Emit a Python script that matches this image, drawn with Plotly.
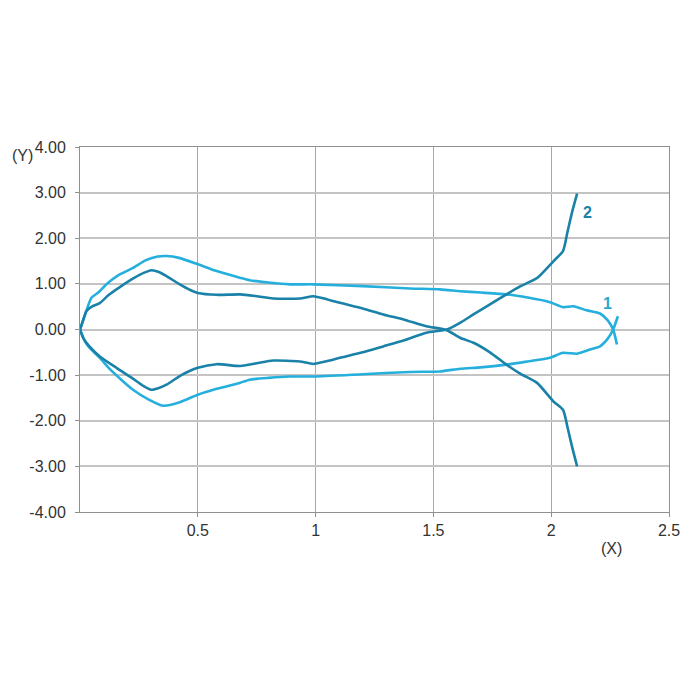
import plotly.graph_objects as go

# Series 1 (light), upper and lower branches
c1_up_x = [0, 0.02, 0.048, 0.08, 0.112, 0.16, 0.225, 0.28, 0.33, 0.367, 0.42, 0.5, 0.58, 0.678, 0.72, 0.8, 0.89, 0.99, 1.2, 1.4, 1.528, 1.613, 1.7, 1.81, 1.9, 1.995, 2.05, 2.094, 2.15, 2.207, 2.24, 2.263, 2.279]
c1_up_y = [0, 0.3, 0.69, 0.82, 0.99, 1.18, 1.35, 1.52, 1.6, 1.61, 1.57, 1.43, 1.28, 1.135, 1.08, 1.03, 0.99, 0.99, 0.95, 0.9, 0.88, 0.84, 0.81, 0.77, 0.7, 0.6, 0.49, 0.51, 0.42, 0.35, 0.2, 0.0, -0.33]
c1_lo_x = [0, 0.02, 0.04, 0.084, 0.127, 0.175, 0.225, 0.29, 0.353, 0.42, 0.5, 0.58, 0.678, 0.72, 0.8, 0.89, 0.99, 1.2, 1.4, 1.528, 1.613, 1.7, 1.81, 1.9, 1.995, 2.05, 2.11, 2.165, 2.207, 2.24, 2.263, 2.283]
c1_lo_y = [0, -0.25, -0.4, -0.62, -0.87, -1.1, -1.32, -1.53, -1.67, -1.6, -1.43, -1.3, -1.17, -1.1, -1.06, -1.03, -1.03, -0.98, -0.93, -0.92, -0.86, -0.83, -0.77, -0.7, -0.62, -0.51, -0.53, -0.44, -0.37, -0.2, 0.0, 0.29]

# Series 2 (dark), upper and lower branches
c2_up_x = [0, 0.01, 0.027, 0.05, 0.084, 0.12, 0.169, 0.23, 0.27, 0.303, 0.335, 0.367, 0.42, 0.47, 0.5, 0.58, 0.68, 0.75, 0.82, 0.933, 0.99, 1.05, 1.103, 1.2, 1.287, 1.38, 1.47, 1.557, 1.613, 1.67, 1.74, 1.81, 1.87, 1.94, 2.01, 2.05, 2.07, 2.09, 2.11]
c2_up_y = [0, 0.15, 0.4, 0.5, 0.58, 0.75, 0.93, 1.13, 1.24, 1.3, 1.26, 1.17, 1.0, 0.86, 0.8, 0.76, 0.77, 0.73, 0.68, 0.68, 0.73, 0.66, 0.585, 0.46, 0.33, 0.21, 0.073, -0.015, -0.18, -0.29, -0.5, -0.77, -0.97, -1.17, -1.58, -1.76, -2.16, -2.6, -3.0]
c2_lo_x = [0, 0.015, 0.04, 0.084, 0.155, 0.22, 0.27, 0.303, 0.335, 0.367, 0.43, 0.5, 0.58, 0.68, 0.75, 0.82, 0.933, 0.99, 1.05, 1.103, 1.2, 1.287, 1.38, 1.47, 1.557, 1.613, 1.67, 1.74, 1.81, 1.87, 1.94, 2.01, 2.05, 2.07, 2.09, 2.11]
c2_lo_y = [0, -0.2, -0.37, -0.59, -0.84, -1.06, -1.24, -1.32, -1.28, -1.21, -1.0, -0.84, -0.76, -0.8, -0.74, -0.68, -0.7, -0.755, -0.69, -0.62, -0.5, -0.37, -0.23, -0.07, 0.0, 0.145, 0.33, 0.55, 0.77, 0.95, 1.13, 1.5, 1.72, 2.16, 2.6, 2.98]

x_tick_vals = [0.5, 1, 1.5, 2, 2.5]
x_tick_text = ["0.5", "1", "1.5", "2", "2.5"]
y_tick_vals = [4, 3, 2, 1, 0, -1, -2, -3, -4]
y_tick_text = ["4.00", "3.00", "2.00", "1.00", "0.00", "-1.00", "-2.00", "-3.00", "-4.00"]

LIGHT = "#25afdc"
DARK = "#1a82a8"

fig = go.Figure()
for xs, ys, col in [(c1_up_x, c1_up_y, LIGHT), (c1_lo_x, c1_lo_y, LIGHT),
                    (c2_up_x, c2_up_y, DARK), (c2_lo_x, c2_lo_y, DARK)]:
    fig.add_trace(go.Scatter(x=xs, y=ys, mode="lines",
                             line=dict(color=col, width=2.6, shape="spline", smoothing=0.6),
                             showlegend=False, hoverinfo="skip"))

font = dict(family="Liberation Sans, Arial, sans-serif", size=16, color="#333333")

fig.add_annotation(x=2.153, y=2.56, text="<b>2</b>", showarrow=False,
                   xanchor="center", yanchor="middle",
                   font=dict(family=font["family"], size=16, color=DARK))
fig.add_annotation(x=2.237, y=0.58, text="<b>1</b>", showarrow=False,
                   xanchor="center", yanchor="middle",
                   font=dict(family=font["family"], size=16, color="#2aa6d0"))
fig.add_annotation(xref="paper", yref="paper", x=-0.119, y=0.978, text="(Y)",
                   xanchor="left", yanchor="middle", showarrow=False, font=font)
fig.add_annotation(xref="paper", yref="paper", x=0.903, y=-0.099, text="(X)",
                   xanchor="center", yanchor="middle", showarrow=False, font=font)

fig.update_layout(
    width=700, height=700,
    margin=dict(l=72, r=39, t=139, b=196),
    paper_bgcolor="white", plot_bgcolor="white",
    font=font,
    xaxis=dict(range=[0, 2.5], tickvals=x_tick_vals, ticktext=x_tick_text,
               showgrid=True, gridcolor="#a8a8a8", gridwidth=1,
               showline=True, linecolor="#909090", linewidth=1, mirror=True,
               ticks="outside", ticklen=4, tickcolor="#909090",
               zeroline=False, fixedrange=True),
    yaxis=dict(range=[-4, 4], tickvals=y_tick_vals, ticktext=y_tick_text,
               showgrid=True, gridcolor="#c4c4c4", gridwidth=1.5,
               showline=True, linecolor="#909090", linewidth=1, mirror=True,
               ticks="outside", ticklen=4, tickcolor="#909090",
               ticklabelstandoff=6,
               zeroline=False, fixedrange=True),
)

fig.write_html("out.html")
